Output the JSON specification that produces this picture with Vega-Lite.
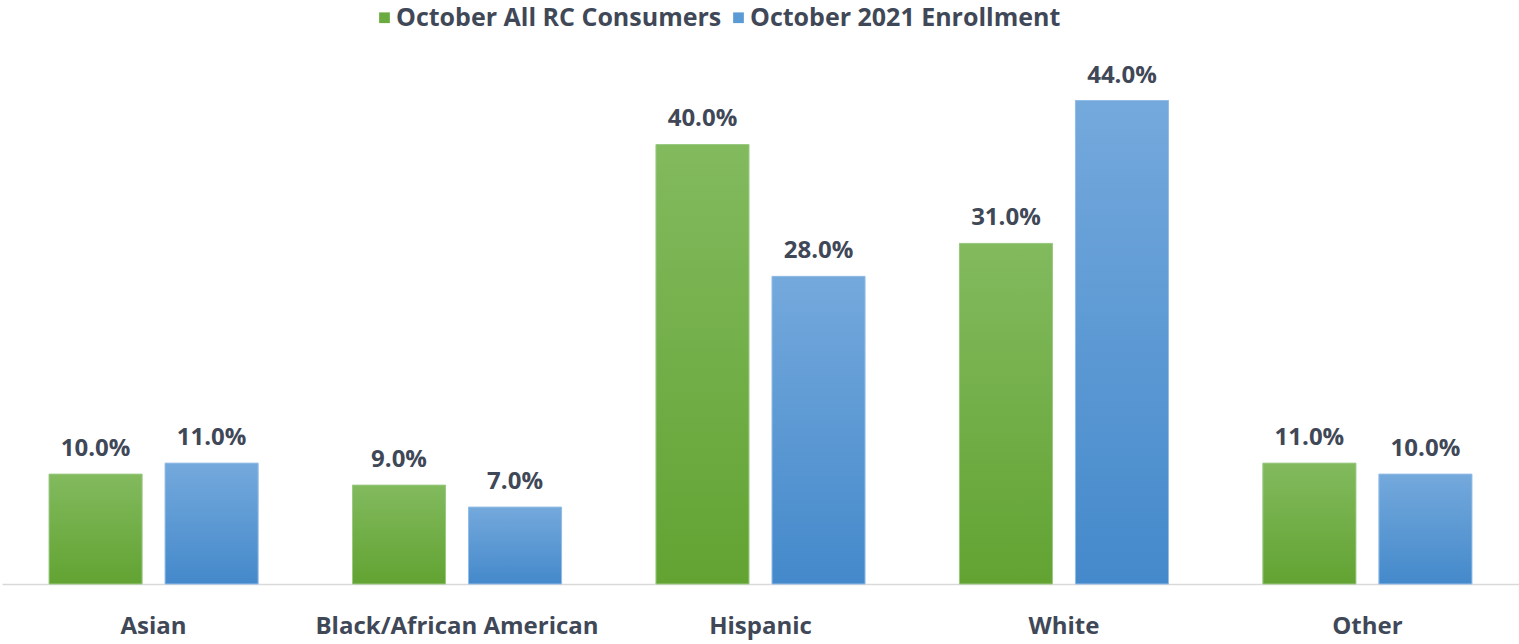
{
  "$schema": "https://vega.github.io/schema/vega-lite/v6.json",
  "width": 1517,
  "height": 534,
  "autosize": {"type": "none"},
  "padding": {"top": 50, "left": 2, "right": 0, "bottom": 60},
  "background": "white",
  "config": {"view": {"stroke": null}, "font": "Open Sans"},
  "data": {
    "values": [
      {"category": "Asian", "series": "October All RC Consumers", "value": 0.10},
      {"category": "Asian", "series": "October 2021 Enrollment", "value": 0.11},
      {"category": "Black/African American", "series": "October All RC Consumers", "value": 0.09},
      {"category": "Black/African American", "series": "October 2021 Enrollment", "value": 0.07},
      {"category": "Hispanic", "series": "October All RC Consumers", "value": 0.40},
      {"category": "Hispanic", "series": "October 2021 Enrollment", "value": 0.28},
      {"category": "White", "series": "October All RC Consumers", "value": 0.31},
      {"category": "White", "series": "October 2021 Enrollment", "value": 0.44},
      {"category": "Other", "series": "October All RC Consumers", "value": 0.11},
      {"category": "Other", "series": "October 2021 Enrollment", "value": 0.10}
    ]
  },
  "encoding": {
    "x": {
      "field": "category", "type": "nominal",
      "sort": ["Asian", "Black/African American", "Hispanic", "White", "Other"],
      "scale": {"paddingInner": 0.311, "paddingOuter": 0.155},
      "axis": {
        "title": null, "labelAngle": 0, "ticks": false, "domain": true,
        "domainColor": "#d9d9d9", "domainWidth": 1.5,
        "labelFont": "Open Sans", "labelFontSize": 24, "labelFontWeight": "bold",
        "labelColor": "#404858", "labelPadding": 30, "labelLimit": 600
      }
    },
    "xOffset": {
      "field": "series", "type": "nominal",
      "sort": ["October All RC Consumers", "October 2021 Enrollment"],
      "scale": {"paddingInner": 0.198, "paddingOuter": 0}
    },
    "y": {
      "field": "value", "type": "quantitative",
      "scale": {"domain": [0, 0.486], "nice": false},
      "axis": null
    }
  },
  "layer": [
    {
      "mark": {"type": "bar"},
      "encoding": {
        "color": {
          "field": "series", "type": "nominal",
          "sort": ["October All RC Consumers", "October 2021 Enrollment"],
          "scale": {"domain": ["October All RC Consumers", "October 2021 Enrollment"], "range": ["#6aaa3e", "#5b9bd5"]},
          "legend": {
            "title": null, "orient": "none", "direction": "horizontal",
            "legendX": 370, "legendY": -45,
            "symbolType": "square", "symbolSize": 115, "symbolStrokeWidth": 0,
            "labelFont": "Open Sans", "labelFontSize": 25, "labelFontWeight": "bold",
            "labelColor": "#404858", "labelOffset": -1, "columnPadding": 4,
            "labelLimit": 500
          }
        }
      }
    },
    {
      "transform": [{"filter": "datum.series === 'October All RC Consumers'"}],
      "mark": {
        "type": "bar",
        "stroke": "#9cc985", "strokeWidth": 1,
        "fill": {"gradient": "linear", "x1": 0, "y1": 0, "x2": 0, "y2": 1,
          "stops": [{"offset": 0, "color": "#82ba5e"}, {"offset": 1, "color": "#62a332"}]}
      }
    },
    {
      "transform": [{"filter": "datum.series === 'October 2021 Enrollment'"}],
      "mark": {
        "type": "bar",
        "stroke": "#94bde6", "strokeWidth": 1,
        "fill": {"gradient": "linear", "x1": 0, "y1": 0, "x2": 0, "y2": 1,
          "stops": [{"offset": 0, "color": "#74a9dc"}, {"offset": 1, "color": "#4489cb"}]}
      }
    },
    {
      "mark": {"type": "text", "baseline": "bottom", "dy": -13, "font": "Open Sans", "fontSize": 24, "fontWeight": "bold", "color": "#404858"},
      "encoding": {
        "text": {"field": "value", "type": "quantitative", "format": ".1%"}
      }
    }
  ]
}
